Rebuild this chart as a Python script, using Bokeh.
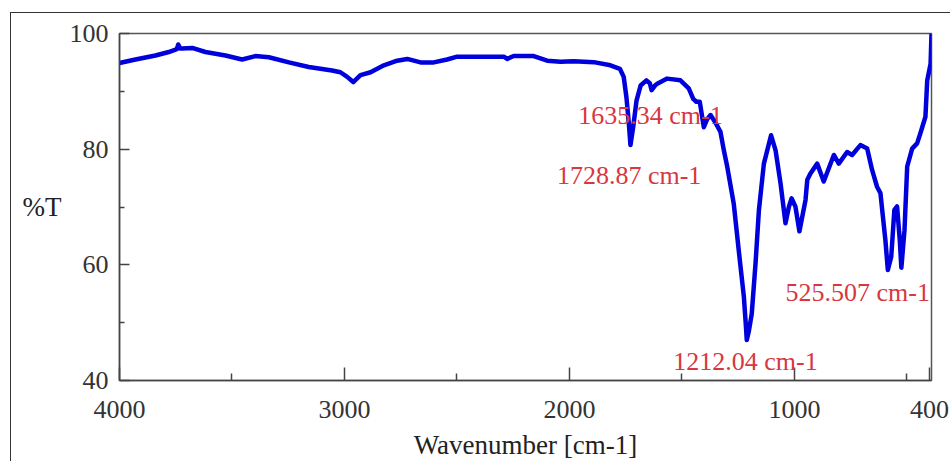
from bokeh.plotting import figure
from bokeh.models import Range1d, FixedTicker, Label, ColumnDataSource
from bokeh.embed import file_html
from bokeh.resources import INLINE

# FTIR spectrum
wavenumber = [4000, 3929, 3840, 3781, 3745, 3739, 3730, 3721, 3677, 3618, 3529, 3455, 3396, 3336,
              3247, 3159, 3055, 3018, 2988, 2961, 2929, 2884, 2825, 2766, 2721, 2662, 2603, 2544,
              2499, 2396, 2292, 2277, 2248, 2159, 2099, 2040, 1981, 1892, 1818, 1776, 1759, 1747,
              1736, 1729, 1717, 1702, 1684, 1658, 1643, 1635, 1620, 1610, 1566, 1507, 1470, 1450,
              1436, 1421, 1403, 1388, 1373, 1350, 1329, 1314, 1299, 1270, 1248, 1225, 1216, 1212,
              1203, 1190, 1173, 1158, 1136, 1121, 1104, 1084, 1062, 1040, 1025, 1013, 996, 978,
              951, 943, 929, 899, 870, 825, 803, 766, 744, 707, 677, 655, 633, 618, 596, 585, 570,
              556, 544, 532, 525, 511, 499, 477, 455, 440, 418, 410, 395, 391]
transmittance = [94.9, 95.5, 96.2, 96.8, 97.3, 98.1, 97.4, 97.4, 97.5, 96.8, 96.2, 95.5, 96.1, 95.9,
                 95.0, 94.2, 93.6, 93.3, 92.5, 91.6, 92.8, 93.3, 94.5, 95.3, 95.6, 95.0, 95.0, 95.5,
                 96.0, 96.0, 96.0, 95.6, 96.1, 96.1, 95.3, 95.1, 95.2, 95.05, 94.5, 93.9, 92.5, 89.0,
                 84.4, 80.7, 83.8, 88.4, 91.0, 91.9, 91.4, 90.2, 91.0, 91.3, 92.2, 91.9, 90.5, 88.7,
                 88.2, 88.2, 83.8, 85.2, 85.9, 84.5, 83.0, 79.8, 77.0, 70.6, 62.6, 54.5, 49.5, 47.0,
                 48.5, 51.5, 60.3, 69.5, 77.5, 79.8, 82.4, 79.8, 74.1, 67.2, 70.0, 71.5, 70.1, 65.8,
                 71.2, 74.7, 75.8, 77.5, 74.4, 79.0, 77.5, 79.5, 79.0, 80.7, 80.1, 76.4, 73.5, 72.4,
                 64.3, 59.1, 61.4, 69.5, 70.1, 64.3, 59.5, 66.0, 77.0, 80.1, 81.0, 82.8, 85.6, 91.9,
                 94.8, 100.0]

peak_texts = ["1635.34 cm-1", "1728.87 cm-1", "1212.04 cm-1", "525.507 cm-1"]
peak_label_x = [1640, 1735, 1218, 398]
peak_label_y = [85.9, 75.5, 43.3, 55.3]
peak_label_align = ["center", "center", "center", "right"]

x_major = [4000, 3000, 2000, 1000, 400]
x_minor = [3500, 2500, 1500, 500]
y_major = [40, 60, 80, 100]
y_minor = [50, 70, 90]

SERIF = "Liberation Serif"

p = figure(width=940, height=449, x_range=Range1d(4000, 391), y_range=Range1d(40, 100),
           output_backend="svg", toolbar_location=None,
           min_border_left=108, min_border_right=20, min_border_top=20, min_border_bottom=81)
p.margin = (12, 0, 0, 10)
p.styles = {"border-left": "1px solid #333", "border-top": "1px solid #333"}
p.background_fill_color = "white"
p.border_fill_color = "white"
p.xgrid.visible = False
p.ygrid.visible = False
p.outline_line_color = "#555555"
p.outline_line_width = 1.5

src = ColumnDataSource(dict(w=wavenumber, t=transmittance))
p.line("w", "t", source=src, line_color="#0000dd", line_width=4.5, line_join="round")

for txt, lx, ly, al in zip(peak_texts, peak_label_x, peak_label_y, peak_label_align):
    p.add_layout(Label(x=lx, y=ly, text=txt, text_align=al, text_baseline="middle",
                       text_font=SERIF, text_font_size="26px", text_color="#d9363e"))

p.xaxis.ticker = FixedTicker(ticks=x_major, minor_ticks=x_minor)
p.yaxis.ticker = FixedTicker(ticks=y_major, minor_ticks=y_minor)
p.xaxis.axis_label = "Wavenumber [cm-1]"
p.yaxis.axis_label = "%T"
p.yaxis.axis_label_orientation = "horizontal"

for ax in (p.xaxis, p.yaxis):
    ax.axis_line_color = "#444444"
    ax.axis_line_width = 1.5
    ax.major_tick_line_color = "#444444"
    ax.minor_tick_line_color = "#444444"
    ax.major_tick_line_width = 1.5
    ax.minor_tick_line_width = 1.5
    ax.major_tick_out = 0
    ax.minor_tick_out = 0
    ax.major_label_text_font = SERIF
    ax.major_label_text_font_size = "26px"
    ax.major_label_text_color = "#333333"
    ax.axis_label_text_font = SERIF
    ax.axis_label_text_font_size = "27px"
    ax.axis_label_text_font_style = "normal"
    ax.axis_label_text_color = "#222222"

p.xaxis.major_tick_in = 13
p.xaxis.minor_tick_in = 7
p.yaxis.major_tick_in = 10
p.yaxis.minor_tick_in = 5
p.xaxis.major_label_standoff = 20
p.xaxis.axis_label_standoff = 9
p.yaxis.major_label_standoff = 11
p.yaxis.axis_label_standoff = 5

open("out.html", "w").write(file_html(p, INLINE))
